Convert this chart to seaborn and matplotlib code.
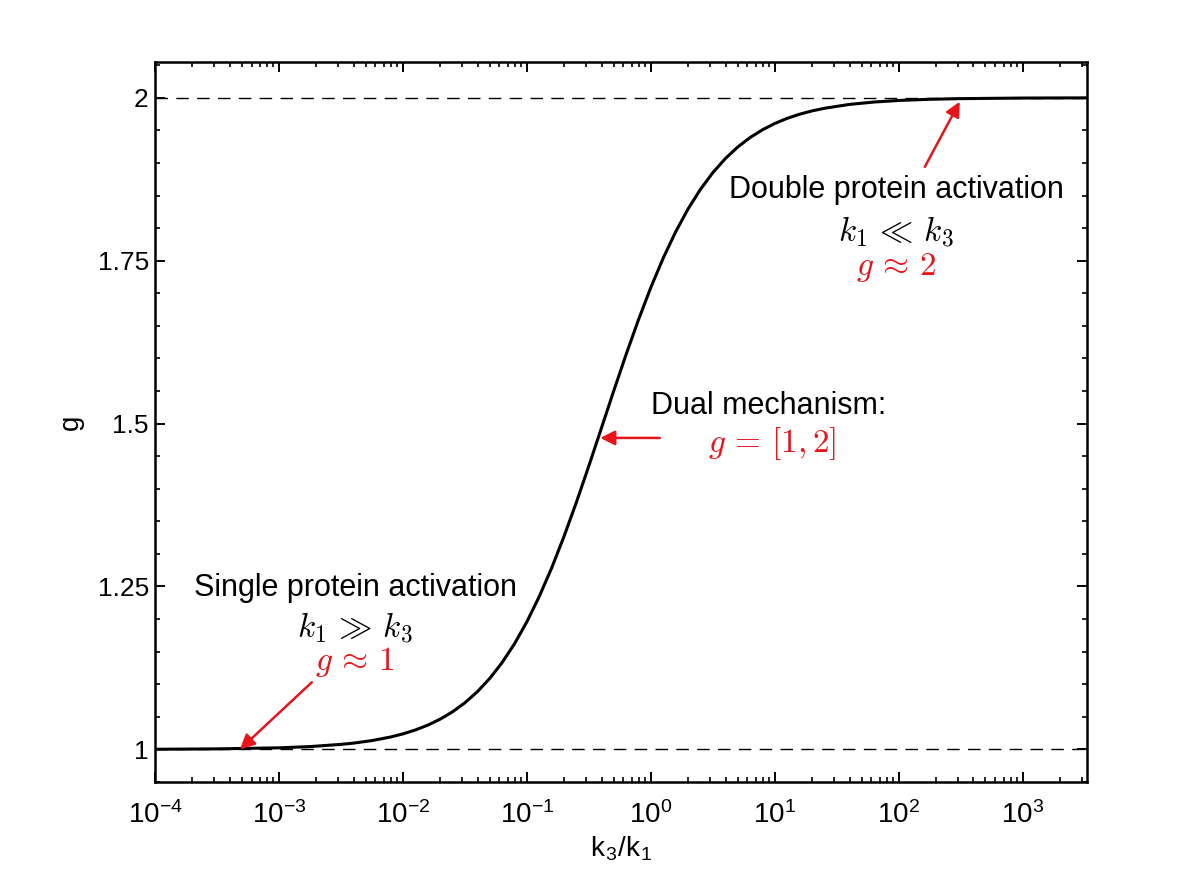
import numpy as np
import pandas as pd
import matplotlib
matplotlib.use("Agg")
import matplotlib.pyplot as plt
from matplotlib.ticker import MultipleLocator, FixedLocator, FixedFormatter, LogLocator
import seaborn as sns

# values (x given as log10 of k3/k1)
log_ratio = [-4.0, -3.5, -3.0, -2.75, -2.5, -2.4, -2.25, -2.1, -2.0, -1.9, -1.8, -1.7,
             -1.6, -1.5, -1.4, -1.3, -1.2, -1.1, -1.0, -0.9, -0.8, -0.7, -0.6, -0.5,
             -0.4, -0.3, -0.2, -0.1, 0.0, 0.1, 0.2, 0.3, 0.4, 0.5, 0.6, 0.7, 0.8, 0.9,
             1.0, 1.1, 1.2, 1.3, 1.4, 1.6, 1.8, 2.0, 2.25, 2.5, 3.0, 3.52]
g_vals = [1.0002, 1.0008, 1.0024, 1.0043, 1.0077, 1.0096, 1.0135, 1.0190, 1.0238,
          1.0298, 1.0372, 1.0464, 1.0577, 1.0716, 1.0885, 1.1089, 1.1333, 1.1622,
          1.1960, 1.2349, 1.2787, 1.3273, 1.3798, 1.4354, 1.4926, 1.5501, 1.6061,
          1.6595, 1.7092, 1.7543, 1.7944, 1.8295, 1.8596, 1.8852, 1.9066, 1.9244,
          1.9390, 1.9509, 1.9606, 1.9685, 1.9748, 1.9799, 1.9839, 1.9898, 1.9935,
          1.9959, 1.9977, 1.9987, 1.9996, 1.9999]

y_ticks = [1, 1.25, 1.5, 1.75, 2]
y_tick_labels = ["1", "1.25", "1.5", "1.75", "2"]

df = pd.DataFrame({"ratio": 10.0 ** np.array(log_ratio), "g": g_vals})

sns.set_style("white")
plt.rcParams["font.family"] = ["Liberation Sans", "DejaVu Sans"]
plt.rcParams["mathtext.fontset"] = "cm"
plt.rcParams["text.color"] = "black"
plt.rcParams["axes.labelcolor"] = "black"

fig = plt.figure(figsize=(12, 8.8), dpi=100)
ax = fig.add_axes([0.1292, 0.1114, 0.7767, 0.8182])

sns.lineplot(data=df, x="ratio", y="g", color="black", linewidth=2.2, ax=ax)
ax.set_xscale("log")

ax.axhline(1, color="black", linestyle=(0, (9, 6)), linewidth=1.0, zorder=1)
ax.axhline(2, color="black", linestyle=(0, (9, 6)), linewidth=1.0, zorder=1)

ax.set_xlim(1e-4, 3300)
ax.set_ylim(0.95, 2.055)

ax.yaxis.set_major_locator(FixedLocator(y_ticks))
ax.yaxis.set_major_formatter(FixedFormatter(y_tick_labels))
ax.yaxis.set_minor_locator(MultipleLocator(0.05))
ax.xaxis.set_major_locator(LogLocator(base=10, numticks=20))
ax.xaxis.set_minor_locator(LogLocator(base=10, subs=np.arange(2, 10), numticks=50))

for s in ax.spines.values():
    s.set_linewidth(1.8)
    s.set_color("black")
ax.tick_params(which="both", direction="in", top=True, right=True, bottom=True, left=True,
               colors="black", labelcolor="black", labelsize=19)
ax.tick_params(which="major", length=7, width=1.4)
ax.tick_params(which="minor", length=3.5, width=1.2)
ax.tick_params(axis="x", which="major", pad=14, labelsize=20)
ax.tick_params(axis="y", which="major", pad=4.5)

ax.set_xlabel(r"k$_\mathregular{3}$/k$_\mathregular{1}$", fontsize=20, labelpad=4)
ax.set_ylabel("g", fontsize=20, labelpad=10)

# annotations
red = "#e8141b"
arrow = dict(arrowstyle="-|>", color=red, lw=1.8, mutation_scale=22, shrinkA=0, shrinkB=0)

ax.text(0.2146, 0.2694, "Single protein activation", transform=ax.transAxes,
        ha="center", va="center", fontsize=22)
ax.text(0.2146, 0.2139, r"$k_1\,\gg\,k_3$", transform=ax.transAxes,
        ha="center", va="center", fontsize=24)
ax.text(0.2146, 0.1667, r"$g\,\approx\,1$", transform=ax.transAxes,
        ha="center", va="center", fontsize=24, color=red)
ax.annotate("", xy=(4.84e-4, 1.0), xytext=(1.84e-3, 1.103), arrowprops=arrow)

ax.text(0.6588, 0.5222, "Dual mechanism:", transform=ax.transAxes,
        ha="center", va="center", fontsize=22)
ax.text(0.6620, 0.4694, r"$g\,=\,[1, 2]$", transform=ax.transAxes,
        ha="center", va="center", fontsize=24, color=red)
ax.annotate("", xy=(0.39, 1.478), xytext=(1.18, 1.478), arrowprops=arrow)

ax.text(0.795, 0.822, "Double protein activation", transform=ax.transAxes,
        ha="center", va="center", fontsize=22)
ax.text(0.795, 0.765, r"$k_1\,\ll\,k_3$", transform=ax.transAxes,
        ha="center", va="center", fontsize=24)
ax.text(0.795, 0.714, r"$g\,\approx\,2$", transform=ax.transAxes,
        ha="center", va="center", fontsize=24, color=red)
ax.annotate("", xy=(310, 1.994), xytext=(162, 1.894), arrowprops=arrow)

fig.savefig("out.png", dpi=100, facecolor="white")
